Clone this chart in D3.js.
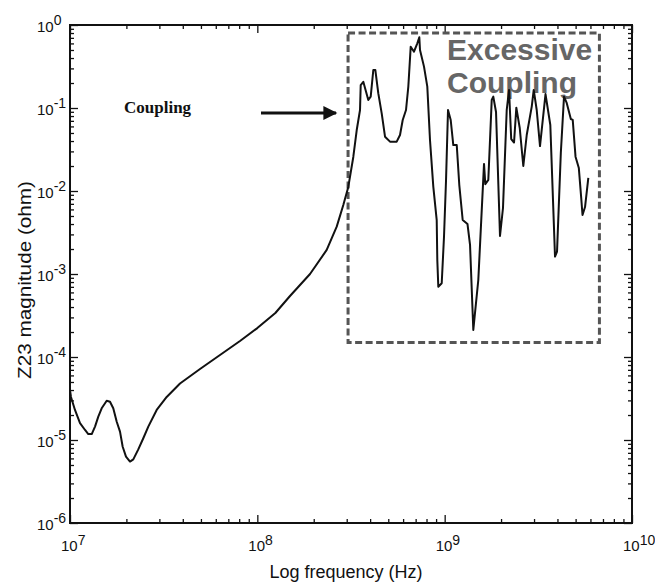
<!DOCTYPE html>
<html>
<head>
<meta charset="utf-8">
<script src="https://cdn.jsdelivr.net/npm/d3@7"></script>
<style>
  body { margin: 0; background: #fff; }
  svg { display: block; font-family: "Liberation Sans", Arial, sans-serif; }
</style>
</head>
<body>
<div id="chart"></div>
<script>
// frequency sweep (Hz) and |Z23| (ohm)
var freqHz = [
  1.0e7, 1.012e7, 1.063e7, 1.131e7, 1.203e7, 1.252e7, 1.306e7, 1.36e7, 1.416e7, 1.476e7,
  1.57e7, 1.635e7, 1.702e7, 1.776e7, 1.849e7, 1.911e7, 1.99e7, 2.091e7, 2.177e7, 2.315e7,
  2.462e7, 2.618e7, 2.902e7, 3.282e7, 3.866e7, 4.943e7, 6.32e7, 8.08e7, 1.0e8, 1.248e8,
  1.494e8, 1.911e8, 2.346e8, 2.653e8, 2.877e8, 3.059e8, 3.253e8, 3.393e8, 3.533e8,
  3.563e8, 3.679e8, 3.912e8, 4.029e8, 4.16e8, 4.264e8, 4.424e8, 4.612e8, 4.804e8, 5.107e8,
  5.546e8, 5.776e8, 5.971e8, 6.218e8, 6.397e8, 6.588e8, 6.86e8, 7.144e8, 7.322e8, 7.385e8,
  7.757e8, 8.078e8, 8.35e8, 8.696e8, 9.068e8, 9.135e8, 9.248e8, 9.644e8, 9.919e8, 1.017e9,
  1.042e9, 1.077e9, 1.112e9, 1.16e9, 1.197e9, 1.248e9, 1.324e9, 1.366e9, 1.422e9, 1.512e9,
  1.622e9, 1.648e9, 1.71e9, 1.783e9, 1.818e9, 1.88e9, 1.974e9, 2.048e9, 2.144e9, 2.206e9,
  2.266e9, 2.346e9, 2.413e9, 2.516e9, 2.629e9, 2.742e9, 2.916e9, 2.988e9, 3.1e9, 3.228e9,
  3.454e9, 3.664e9, 3.882e9, 3.979e9, 4.169e9, 4.336e9, 4.482e9, 4.715e9, 4.826e9, 4.995e9,
  5.202e9, 5.357e9, 5.443e9, 5.614e9, 5.846e9
];
var z23Ohm = [
  4.0e-5, 3.3e-5, 2.3e-5, 1.6e-5, 1.32e-5, 1.18e-5, 1.18e-5, 1.45e-5, 1.91e-5, 2.41e-5,
  2.97e-5, 2.89e-5, 2.41e-5, 1.66e-5, 1.26e-5, 8.3e-6, 6.3e-6, 5.5e-6, 5.85e-6, 7.7e-6,
  1.05e-5, 1.45e-5, 2.3e-5, 3.3e-5, 4.8e-5, 7.17e-5, 1.057e-4, 1.56e-4, 2.23e-4, 3.39e-4,
  5.43e-4, 1.0e-3, 1.95e-3, 3.72e-3, 6.78e-3, 1.12e-2, 2.57e-2, 5.43e-2, 9.46e-2,
  0.189, 0.207, 0.125, 0.137, 0.287, 0.287, 0.150, 8.63e-2, 4.51e-2, 3.93e-2,
  3.93e-2, 4.73e-2, 7.17e-2, 9.46e-2, 0.181, 0.548, 0.477, 0.602, 0.711, 0.500,
  0.315, 0.181, 4.11e-2, 1.13e-2, 4.47e-3, 1.47e-3, 7.03e-4, 7.73e-4, 2.81e-3, 1.36e-2,
  9.46e-2, 7.17e-2, 3.58e-2, 3.58e-2, 1.18e-2, 4.47e-3, 4.0e-3, 2.24e-3, 2.12e-4, 8.47e-4,
  2.12e-2, 1.21e-2, 1.36e-2, 0.125, 0.137, 8.95e-2, 2.87e-3, 6.24e-3, 9.46e-2, 0.165,
  4.23e-2, 3.84e-2, 0.101, 5.74e-2, 2.0e-2, 4.73e-2, 0.104, 0.165, 9.46e-2, 3.48e-2,
  0.147, 6.24e-2, 1.62e-3, 1.86e-3, 2.87e-2, 0.137, 0.115, 7.37e-2, 7.2e-2, 2.59e-2,
  1.89e-2, 8.24e-3, 5.14e-3, 6.41e-3, 1.44e-2
];

var xDecades = [1e7, 1e8, 1e9, 1e10];
var xExponents = ["7", "8", "9", "10"];
var yDecades = [1e-6, 1e-5, 1e-4, 1e-3, 1e-2, 1e-1, 1];
var yExponents = ["-6", "-5", "-4", "-3", "-2", "-1", "0"];

// excessive coupling window (freq range, ohm range)
var boxFreq = [3.05e8, 6.7e9];
var boxOhm = [1.5e-4, 0.8];

var margin = {top: 25, right: 23, bottom: 60, left: 70};
var width = 655 - margin.left - margin.right;
var height = 583 - margin.top - margin.bottom;

var x = d3.scaleLog().domain([1e7, 1e10]).range([0, width]);
var y = d3.scaleLog().domain([1e-6, 1]).range([height, 0]);

var svg = d3.select("#chart").append("svg")
    .attr("width", 655)
    .attr("height", 583)
  .append("g")
    .attr("transform", "translate(" + margin.left + "," + margin.top + ")");

function minorTicks(scale) {
  return scale.ticks().filter(function(d) {
    return xDecades.indexOf(d) < 0 && yDecades.indexOf(d) < 0;
  });
}

// inward ticks on all four sides
var sides = [
  {axis: d3.axisBottom, scale: x, t: "translate(0," + height + ")", dec: xDecades},
  {axis: d3.axisTop, scale: x, t: null, dec: xDecades},
  {axis: d3.axisLeft, scale: y, t: null, dec: yDecades},
  {axis: d3.axisRight, scale: y, t: "translate(" + width + ",0)", dec: yDecades}
];
sides.forEach(function(s) {
  var gMaj = svg.append("g").attr("transform", s.t);
  gMaj.call(s.axis(s.scale).tickValues(s.dec).tickSize(-8).tickFormat(""));
  var gMin = svg.append("g").attr("transform", s.t);
  gMin.call(s.axis(s.scale).tickValues(minorTicks(s.scale)).tickSize(-4).tickFormat(""));
  [gMaj, gMin].forEach(function(g) {
    g.select(".domain").remove();
    g.selectAll("line").attr("stroke", "#111").attr("stroke-width", 1.3);
  });
});

svg.append("rect")
    .attr("width", width)
    .attr("height", height)
    .attr("fill", "none")
    .attr("stroke", "#111")
    .attr("stroke-width", 2);

// tick labels with superscripts
xDecades.forEach(function(d, i) {
  var t = svg.append("text")
      .attr("x", x(d) - 9)
      .attr("y", height + 28)
      .attr("font-size", 15)
      .attr("fill", "#111")
      .text("10");
  t.append("tspan").attr("dy", -6).attr("font-size", 14).text(xExponents[i]);
});

yDecades.forEach(function(d, i) {
  var t = svg.append("text")
      .attr("x", -33)
      .attr("y", y(d) + 7)
      .attr("font-size", 15)
      .attr("fill", "#111")
      .text("10");
  t.append("tspan").attr("dy", -7).attr("font-size", 14).text(yExponents[i]);
});

svg.append("text")
    .attr("x", width / 2 - 5)
    .attr("y", height + 55)
    .attr("text-anchor", "middle")
    .attr("font-size", 18)
    .attr("fill", "#111")
    .text("Log frequency (Hz)");

svg.append("text")
    .attr("transform", "translate(" + (-39) + "," + (height / 2 + 6) + ") rotate(-90)")
    .attr("text-anchor", "middle")
    .attr("font-size", 19)
    .attr("textLength", 198)
    .attr("lengthAdjust", "spacingAndGlyphs")
    .attr("fill", "#111")
    .text("Z23 magnitude (ohm)");

// annotation: Coupling + arrow
svg.append("text")
    .attr("x", 54)
    .attr("y", y(0.1) + 5)
    .attr("font-family", "'Liberation Serif', 'Times New Roman', serif")
    .attr("font-weight", "bold")
    .attr("font-size", 17)
    .attr("fill", "#111")
    .text("Coupling");

svg.append("defs").append("marker")
    .attr("id", "head")
    .attr("viewBox", "0 0 10 10")
    .attr("refX", 9).attr("refY", 5)
    .attr("markerWidth", 6).attr("markerHeight", 5)
    .attr("markerUnits", "strokeWidth")
    .attr("orient", "auto")
  .append("path")
    .attr("d", "M0,0L10,5L0,10Z")
    .attr("fill", "#111");

svg.append("line")
    .attr("x1", 191).attr("x2", 266)
    .attr("y1", y(0.1) + 5).attr("y2", y(0.1) + 5)
    .attr("stroke", "#111")
    .attr("stroke-width", 2.8)
    .attr("marker-end", "url(#head)");

// dashed window
svg.append("rect")
    .attr("x", x(boxFreq[0]))
    .attr("y", y(boxOhm[1]))
    .attr("width", x(boxFreq[1]) - x(boxFreq[0]))
    .attr("height", y(boxOhm[0]) - y(boxOhm[1]))
    .attr("fill", "none")
    .attr("stroke", "#555")
    .attr("stroke-width", 3)
    .attr("stroke-dasharray", "7,3.5");

svg.append("text")
    .attr("x", 377)
    .attr("y", 35)
    .attr("font-weight", "bold")
    .attr("font-size", 30)
    .attr("fill", "#666")
    .text("Excessive");
svg.append("text")
    .attr("x", 377)
    .attr("y", 68)
    .attr("font-weight", "bold")
    .attr("font-size", 30)
    .attr("fill", "#666")
    .text("Coupling");

var data = freqHz.map(function(f, i) { return {f: f, z: z23Ohm[i]}; });

var line = d3.line()
    .x(function(d) { return x(d.f); })
    .y(function(d) { return y(d.z); });

svg.append("path")
    .datum(data)
    .attr("d", line)
    .attr("fill", "none")
    .attr("stroke", "#111")
    .attr("stroke-width", 2)
    .attr("stroke-linejoin", "round");
</script>
</body>
</html>
